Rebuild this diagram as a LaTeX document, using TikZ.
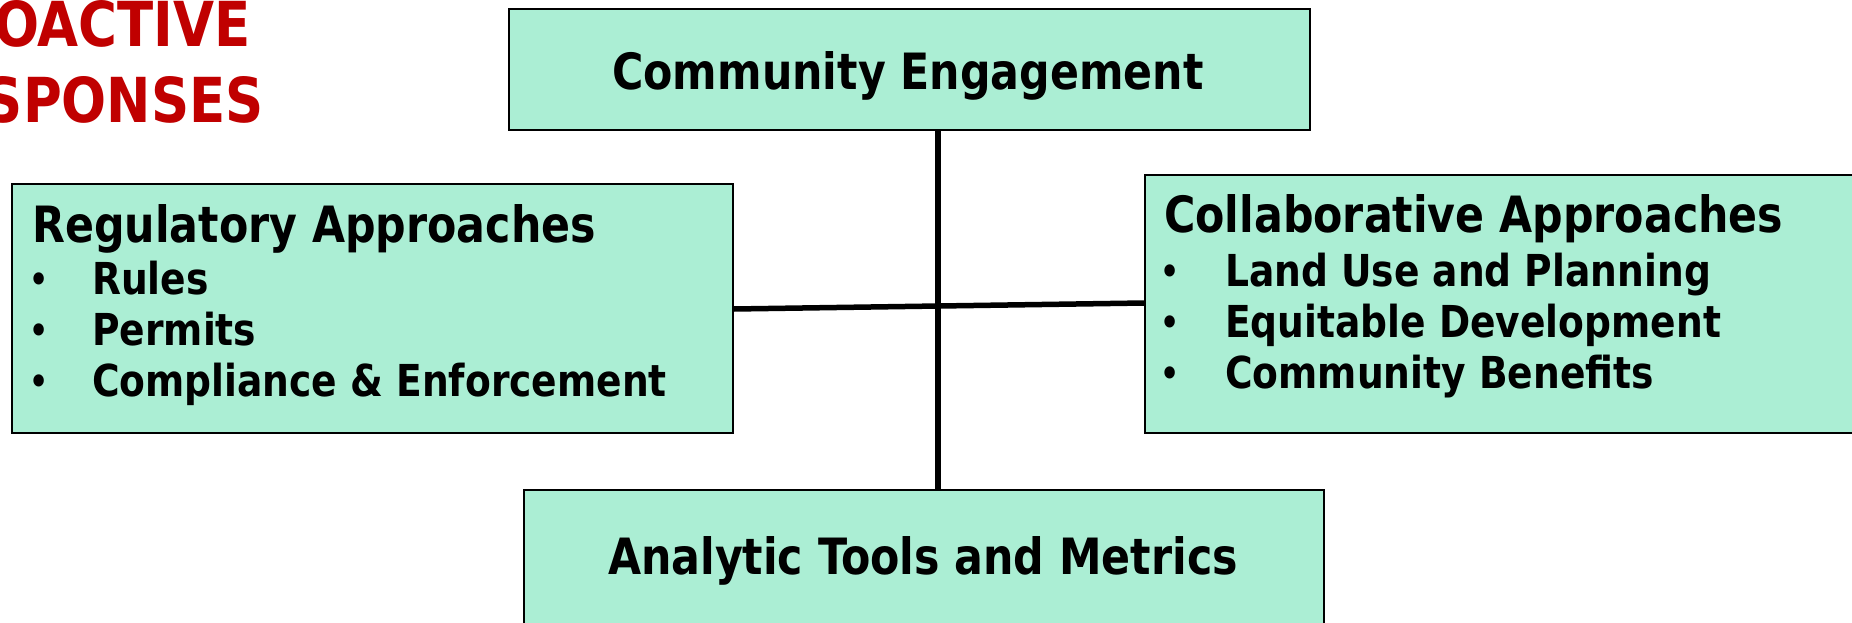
\documentclass[tikz,border=0pt]{standalone}
\usepackage{fontspec}
\setmainfont[FakeStretch=0.95]{DejaVu Sans Condensed}
\definecolor{boxfill}{RGB}{171,238,212}
\definecolor{titlered}{RGB}{192,0,0}
\tikzset{
  box/.style={draw=black, line width=1.5pt, fill=boxfill, rectangle, inner sep=0pt},
  head/.style={font=\fontsize{50}{50}\selectfont\bfseries, inner sep=0pt, anchor=base west},
  item/.style={font=\fontsize{44}{44}\selectfont\bfseries, inner sep=0pt, anchor=base west},
  bul/.style={font=\fontsize{42}{42}\selectfont, inner sep=0pt, anchor=base},
  ttl/.style={font=\fontsize{62}{62}\selectfont\bfseries, text=titlered, inner sep=0pt, anchor=base east},
  conn/.style={line width=5.5pt, draw=black}
}
\begin{document}
\begin{tikzpicture}[x=1pt,y=-1pt]
\useasboundingbox (0,0) rectangle (1852,622);
% title fragments
\node[ttl] (t1) at (251,46) {PROACTIVE};
\node[ttl] (t2) at (264,122) {RESPONSES};
% boxes
\node[box, anchor=north west, minimum width=801pt, minimum height=121pt] (ce) at (508,8) {};
\node[box, anchor=north west, minimum width=721pt, minimum height=249pt] (reg) at (11,183) {};
\node[box, anchor=north west, minimum width=760pt, minimum height=258pt] (col) at (1144,174) {};
\node[box, anchor=north west, minimum width=800pt, minimum height=160pt] (an) at (523,489) {};
% connectors
\coordinate (vx) at (938,300);
\coordinate (hl) at (0,309);
\coordinate (hr) at (0,303);
\draw[conn] (ce.south -| vx) -- (an.north -| vx);
\draw[conn] (reg.east |- hl) -- (col.west |- hr);
% texts
\node[head, anchor=base] (cet) at (908,89) {Community Engagement};
\node[head, anchor=base] (ant) at (923,574) {Analytic Tools and Metrics};
\node[head] (regh) at (32,242) {Regulatory Approaches};
\node[bul] (rb1) at (39,294) {•};
\node[item] (r1) at (92,294) {Rules};
\node[bul] (rb2) at (39,345) {•};
\node[item] (r2) at (92,345) {Permits};
\node[bul] (rb3) at (39,396) {•};
\node[item] (r3) at (92,396) {Compliance \& Enforcement};
\node[head] (colh) at (1164,232) {Collaborative Approaches};
\node[bul] (cb1) at (1170,286) {•};
\node[item] (c1) at (1225,286) {Land Use and Planning};
\node[bul] (cb2) at (1170,337) {•};
\node[item] (c2) at (1225,337) {Equitable Development};
\node[bul] (cb3) at (1170,388) {•};
\node[item] (c3) at (1225,388) {Community Benefits};
\end{tikzpicture}
\end{document}
